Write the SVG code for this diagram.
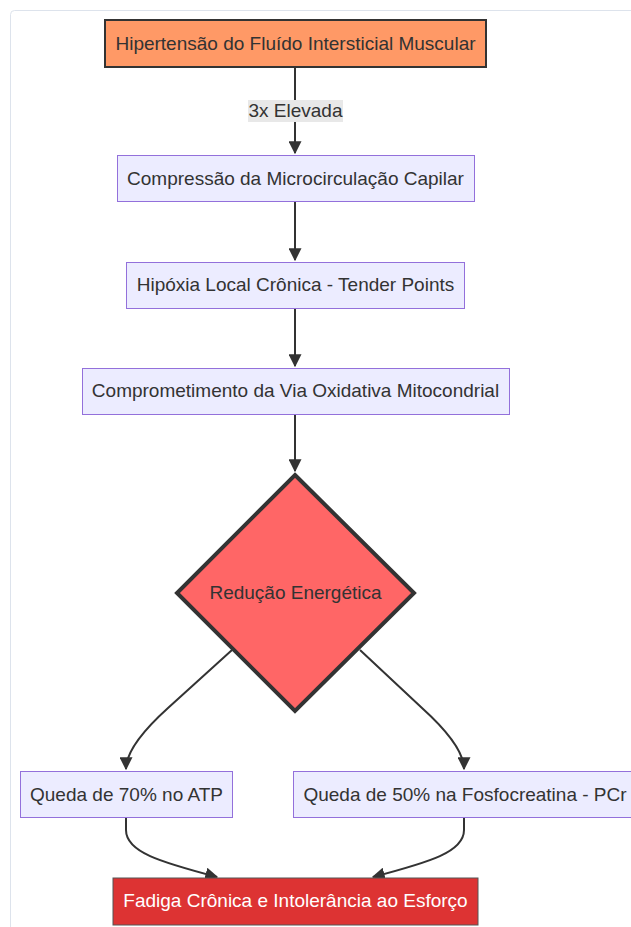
<svg xmlns="http://www.w3.org/2000/svg" width="631" height="927" viewBox="0 0 631 927">
  <style>
    text { font-family: "Liberation Sans", Arial, sans-serif; font-size: 19px; fill: #333333; text-anchor: middle; dominant-baseline: central; }
    .proc { fill: #ECECFF; stroke: #9370DB; stroke-width: 1; }
    .edge { fill: none; stroke: #333333; stroke-width: 2; }
  </style>
  <defs>
    <marker id="arrow" viewBox="0 0 10 10" refX="9" refY="5" markerWidth="6.5" markerHeight="6.5" orient="auto" markerUnits="strokeWidth">
      <path d="M0,0 L10,5 L0,10 z" fill="#333333"/>
    </marker>
  </defs>

  <!-- page frame -->
  <rect x="10.5" y="10.5" width="640" height="940" rx="4" fill="#ffffff" stroke="#dde3ec" stroke-width="1"/>

  <!-- connectors -->
  <g id="connectors">
    <path class="edge" d="M295,67 L295,153" marker-end="url(#arrow)"/>
    <path class="edge" d="M295,202 L295,260" marker-end="url(#arrow)"/>
    <path class="edge" d="M295,308 L295,366" marker-end="url(#arrow)"/>
    <path class="edge" d="M295,414 L295,471" marker-end="url(#arrow)"/>
    <path class="edge" d="M232,650 L168,708 Q126,746 126,769" marker-end="url(#arrow)"/>
    <path class="edge" d="M360,650 L422,708 Q464,746 464,769" marker-end="url(#arrow)"/>
    <path class="edge" d="M126,818 L126,830 C126,852 160,862 217,877" marker-end="url(#arrow)"/>
    <path class="edge" d="M464,818 L464,830 C464,852 430,862 373,877" marker-end="url(#arrow)"/>
    <g id="label-3x">
      <rect x="248" y="100" width="95" height="22" fill="#e8e8e8"/>
      <text x="295.5" y="110">3x Elevada</text>
    </g>
  </g>

  <g id="n-hipertensao">
    <rect x="105" y="20" width="381" height="47" fill="#FF9966" stroke="#333333" stroke-width="2"/>
    <text x="295.5" y="43">Hipertensão do Fluído Intersticial Muscular</text>
  </g>

  <g id="n-compressao">
    <rect class="proc" x="117.5" y="155.5" width="357" height="46"/>
    <text x="295.5" y="178">Compressão da Microcirculação Capilar</text>
  </g>

  <g id="n-hipoxia">
    <rect class="proc" x="126.5" y="262.5" width="338" height="46"/>
    <text x="295.5" y="284">Hipóxia Local Crônica - Tender Points</text>
  </g>

  <g id="n-via">
    <rect class="proc" x="82.5" y="368.5" width="427" height="46"/>
    <text x="295.5" y="390">Comprometimento da Via Oxidativa Mitocondrial</text>
  </g>

  <g id="n-reducao">
    <polygon points="295,475 414,593 295,711 177,593" fill="#FF6666" stroke="#333333" stroke-width="4"/>
    <text x="295.5" y="592">Redução Energética</text>
  </g>

  <g id="n-atp">
    <rect class="proc" x="20.5" y="771.5" width="212" height="46"/>
    <text x="126.5" y="794">Queda de 70% no ATP</text>
  </g>

  <g id="n-pcr">
    <rect class="proc" x="293.5" y="771.5" width="343" height="46"/>
    <text x="465" y="794">Queda de 50% na Fosfocreatina - PCr</text>
  </g>

  <g id="n-fadiga">
    <rect x="113" y="878" width="365" height="47" fill="#DD3333" stroke="#555555" stroke-width="1"/>
    <text x="295.5" y="900" style="fill:#ffffff">Fadiga Crônica e Intolerância ao Esforço</text>
  </g>
</svg>
